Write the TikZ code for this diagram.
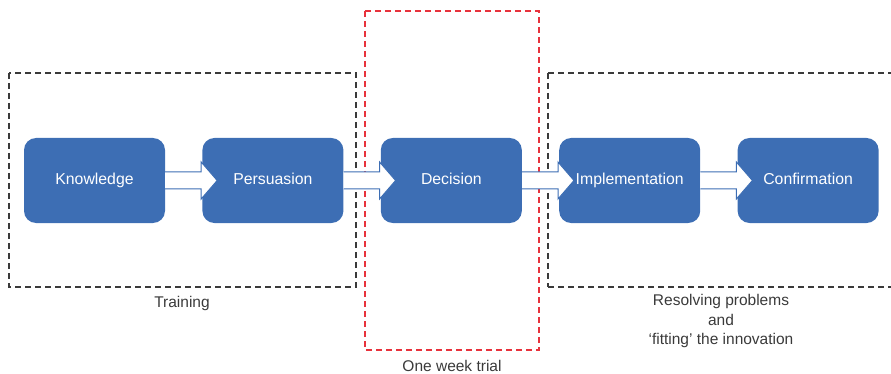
\documentclass[tikz,border=0pt]{standalone}
\usepackage{fontspec}
\setmainfont{Liberation Sans}
\usetikzlibrary{calc}
\usetikzlibrary{positioning}

\definecolor{stageblue}{HTML}{3D6EB4}
\definecolor{trialred}{HTML}{E8323C}
\definecolor{framegray}{HTML}{3A3A3A}

\tikzset{
  stage/.style={rectangle, rounded corners=12pt, fill=stageblue, draw=none,
    minimum width=141pt, minimum height=85pt, text=white,
    text height=11.5pt, text depth=3.5pt,
    font=\fontsize{15.8}{18}\selectfont},
  flowarrow/.style={fill=white, draw=stageblue, line width=1pt, line join=miter},
  phase/.style={dashed, dash pattern=on 6pt off 4pt, line width=1.1pt, draw=framegray},
  trial/.style={phase, draw=trialred},
  caption/.style={text=framegray, align=center, font=\fontsize{15.5}{19.5}\selectfont}
}

\begin{document}
\begin{tikzpicture}[x=1pt,y=-1pt]
    \useasboundingbox (0,0) rectangle (891,374);

    % dashed frames
    \draw[phase] (9,73) rectangle (356,287);
    \draw[phase] (548,73) -- (898,73);
    \draw[phase] (548,287) -- (898,287);
    \draw[phase] (548,73) -- (548,287);
    \draw[trial] (365,11) rectangle (539,350);

    % stages
    \node[stage] (knowledge) at (94.5,180.5) {Knowledge};
    \node[stage, right=37pt of knowledge] (persuasion) {Persuasion};
    \node[stage, right=37pt of persuasion] (decision) {Decision};
    \node[stage, right=37pt of decision] (implementation) {Implementation};
    \node[stage, right=37pt of implementation] (confirmation) {Confirmation};

    % arrows between stages
    \foreach \from/\to in {knowledge/persuasion, persuasion/decision,
                           decision/implementation, implementation/confirmation}
      \draw[flowarrow] ($(\from.east)+(0,-8.5)$) -- ($(\to.west)+(-1,-8.5)$)
        -- ($(\to.west)+(-1,-18.5)$) -- ($(\to.west)+(15,0)$)
        -- ($(\to.west)+(-1,18.5)$) -- ($(\to.west)+(-1,8.5)$)
        -- ($(\from.east)+(0,8.5)$);

    % labels
    \node[caption] (training) at (182,303) {Training};
    \node[caption] (trialtext) at (452,366) {One week trial};
    \node[caption] (fitting) at (721,321) {Resolving problems\\and\\‘fitting’ the innovation};
\end{tikzpicture}
\end{document}
